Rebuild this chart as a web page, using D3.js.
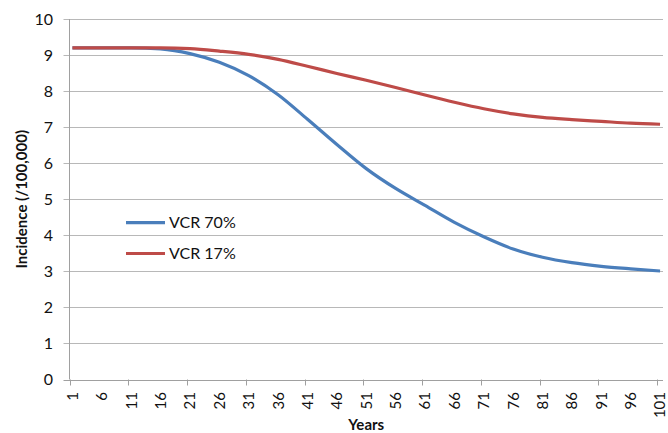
<!DOCTYPE html>
<html>
<head>
<meta charset="utf-8">
<script src="https://cdn.jsdelivr.net/npm/d3@7"></script>
<style>
  html, body { margin: 0; padding: 0; background: #fff; }
  svg { display: block; font-family: Lato, "Open Sans", sans-serif; }
</style>
</head>
<body>
<svg id="chart" width="668" height="433"></svg>
<script>
// ---- data ----
const years = d3.range(1, 102);                       // category axis 1..101
const sampleYears = [1, 6, 11, 16, 21, 26, 31, 36, 41, 46, 51, 56, 61, 66, 71, 76, 81, 86, 91, 96, 101];
const vcr70 = [9.20, 9.20, 9.20, 9.17, 9.04, 8.80, 8.43, 7.90, 7.22, 6.52, 5.85, 5.30, 4.83, 4.36, 3.96, 3.62, 3.39, 3.24, 3.14, 3.07, 3.01];
const vcr17 = [9.20, 9.20, 9.20, 9.20, 9.18, 9.11, 9.02, 8.88, 8.69, 8.49, 8.30, 8.10, 7.89, 7.69, 7.51, 7.37, 7.27, 7.21, 7.16, 7.11, 7.08];
const seriesNames = ["VCR 70%", "VCR 17%"];
const seriesColors = ["#4A7EBB", "#BE4B48"];
const yTicks = [0, 1, 2, 3, 4, 5, 6, 7, 8, 9, 10];
const xLabelYears = d3.range(1, 102, 5);
const xTickYears = d3.range(1, 102, 10);
const yTitle = "Incidence (/100,000)";
const xTitle = "Years";

// ---- layout ----
const svg = d3.select("#chart");
const mLeft = 69.5, mRight = 663, mTop = 19, mBottom = 379.5;

const x = d3.scaleBand().domain(years).range([mLeft, mRight]).paddingInner(0).paddingOuter(0);
const y = d3.scaleLinear().domain([0, 10]).range([mBottom, mTop]);
const cx = d => x(d) + x.bandwidth() / 2;

const gridColor = "#B8B8B8";
const axisColor = "#A0A0A0";
const textColor = "#111111";

// gridlines (with tick stubs to the left)
svg.append("g").selectAll("line").data(yTicks).join("line")
  .attr("x1", mLeft - 6).attr("x2", mRight)
  .attr("y1", d => Math.round(y(d)) + 0.5).attr("y2", d => Math.round(y(d)) + 0.5)
  .attr("stroke", d => d === 0 ? axisColor : gridColor).attr("stroke-width", 1);

// y axis line
svg.append("line").attr("x1", mLeft).attr("x2", mLeft).attr("y1", mTop).attr("y2", mBottom)
  .attr("stroke", axisColor).attr("stroke-width", 1);

// y labels
svg.append("g").selectAll("text").data(yTicks).join("text")
  .attr("x", 53).attr("y", d => y(d)).attr("dy", "0.36em")
  .attr("text-anchor", "end").attr("font-size", 16).attr("fill", textColor)
  .text(d => d);

// x tick marks at category boundaries
svg.append("g").selectAll("line").data(xTickYears).join("line")
  .attr("x1", d => Math.round(x(d)) + 0.5).attr("x2", d => Math.round(x(d)) + 0.5)
  .attr("y1", mBottom).attr("y2", mBottom + 6)
  .attr("stroke", axisColor).attr("stroke-width", 1);

// x labels (rotated)
svg.append("g").selectAll("text").data(xLabelYears).join("text")
  .attr("transform", d => `translate(${cx(d)},${392}) rotate(-90)`)
  .attr("text-anchor", "end").attr("dy", "0.36em")
  .attr("font-size", 15).attr("fill", textColor)
  .text(d => d);

// axis titles
svg.append("text").attr("x", (mLeft + mRight) / 2).attr("y", 430)
  .attr("text-anchor", "middle").attr("font-size", 15).attr("font-weight", "bold").attr("fill", textColor)
  .text(xTitle);
svg.append("text").attr("transform", `translate(22,${(mTop + mBottom) / 2}) rotate(-90)`)
  .attr("text-anchor", "middle").attr("dy", "0.36em")
  .attr("font-size", 15).attr("font-weight", "bold").attr("fill", textColor)
  .text(yTitle);

// lines
const line = d3.line().x((d, i) => cx(sampleYears[i])).y(d => y(d)).curve(d3.curveMonotoneX);
[vcr70, vcr17].forEach((vals, k) => {
  svg.append("path").datum(vals).attr("d", line)
    .attr("fill", "none").attr("stroke", seriesColors[k]).attr("stroke-width", 3.2)
    .attr("stroke-linejoin", "round").attr("stroke-linecap", "butt");
});

// legend
const legY = [222.7, 253.5];
seriesNames.forEach((name, k) => {
  svg.append("line").attr("x1", 126).attr("x2", 165).attr("y1", legY[k]).attr("y2", legY[k])
    .attr("stroke", seriesColors[k]).attr("stroke-width", 3.2);
  svg.append("text").attr("x", 169).attr("y", legY[k]).attr("dy", "0.36em")
    .attr("font-size", 16).attr("fill", textColor).text(name);
});
</script>
</body>
</html>
